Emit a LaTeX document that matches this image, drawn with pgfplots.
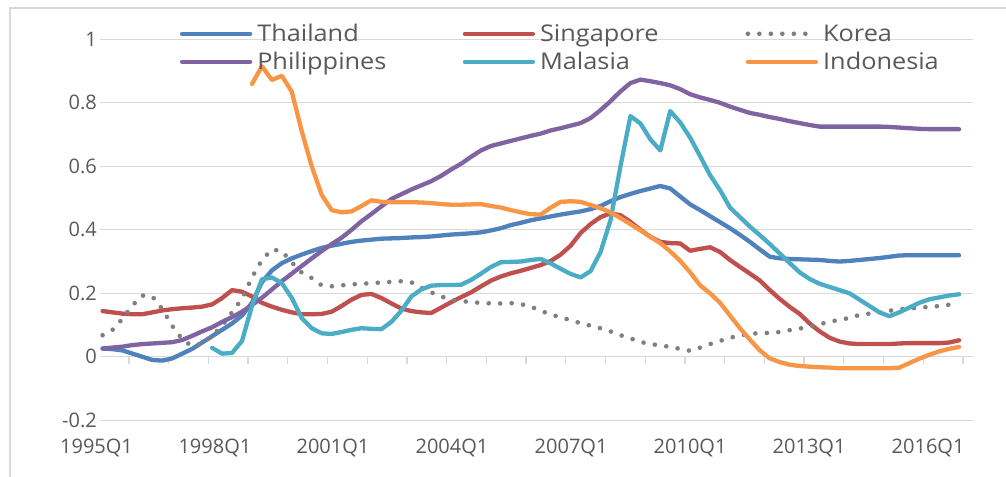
\documentclass[border=0pt]{standalone}
\usepackage{fontspec}
\setmainfont{Open Sans}
\newfontfamily\legendfamily[FakeStretch=1.1]{Open Sans}
\usepackage{pgfplots}
\pgfplotsset{compat=1.18}
\definecolor{thai}{HTML}{4F81BD}
\definecolor{sing}{HTML}{C0504D}
\definecolor{kor}{HTML}{7F7F7F}
\definecolor{phil}{HTML}{8064A2}
\definecolor{mal}{HTML}{4BACC6}
\definecolor{indo}{HTML}{F79646}
\definecolor{gridgray}{HTML}{D9D9D9}
\definecolor{textgray}{HTML}{595959}
\newcommand\tickfont{\fontsize{20bp}{24bp}\selectfont}
\newcommand\legendfont{\legendfamily\fontsize{23bp}{27bp}\selectfont}
\begin{document}
\begin{tikzpicture}
\useasboundingbox (0,0) rectangle (1006bp,477bp);
\fill[white] (0,0) rectangle (1006bp,477bp);
\draw[gridgray, line width=1.5bp] (10bp,0) -- (10bp,469bp) -- (1006bp,469bp);
\begin{axis}[
  at={(100bp,56.7bp)}, anchor=south west,
  scale only axis, width=873bp, height=381bp,
  xmin=-0.26, xmax=87.4, ymin=-0.2, ymax=1,
  axis line style={draw=none},
  major tick length=0pt,
  ytick={-0.2,0,0.2,0.4,0.6,0.8,1},
  yticklabels={-0.2,0,0.2,0.4,0.6,0.8,1},
  xtick={11.28,23.13,35.08,47.04,58.99,70.94,82.89},
  xticklabels={1998Q1,2001Q1,2004Q1,2007Q1,2010Q1,2013Q1,2016Q1},
  extra x ticks={-0.26},
  extra x tick labels={1995Q1},
  extra x tick style={xticklabel style={xshift=-3.5bp}},
  ymajorgrids, grid style={line width=1.3bp, draw=gridgray},
  tick label style={font=\tickfont, text=textgray},
  yticklabel style={anchor=east, inner sep=0pt, xshift=-3bp},
  xticklabel style={anchor=north, inner sep=0pt, yshift=-18.7bp},
  clip=false,
  legend columns=3,
  legend style={at={(0.0916,1.0394)}, anchor=north west, draw=none, fill=none,
    inner sep=0pt, outer sep=0pt, row sep=9bp, column sep=0pt,
    nodes={inner sep=0pt, outer sep=0pt, font=\legendfont, text=textgray}},
  legend image code/.code={\draw[#1] (0bp,0bp) -- (68bp,0bp);},
  every axis plot/.append style={line width=4.3bp, line cap=round, line join=round},
]
\pgfplotsinvokeforeach{2.64,6.63,10.62,14.60,18.59,22.58,26.57,30.56,34.54,38.53,42.52,46.51,50.50,54.48,58.47,62.46,66.45,70.44,74.42,78.41,82.40,86.39}{
  \draw[gridgray, line width=1.3bp] (axis cs:#1,0) -- ([yshift=-7bp]axis cs:#1,0);
}
% Thailand
\addplot[thai] coordinates {
(0,0.026) (1,0.024) (2,0.02) (3,0.01) (4,0.0) (5,-0.01) (6,-0.012) (7,-0.005) (8,0.01) (9,0.025)
(10,0.045) (11,0.065) (12,0.085) (13,0.105) (14,0.13) (15,0.17) (16,0.235) (17,0.272) (18,0.295) (19,0.31)
(20,0.322) (21,0.333) (22,0.343) (23,0.35) (24,0.356) (25,0.362) (26,0.366) (27,0.369) (28,0.372) (29,0.373)
(30,0.374) (31,0.376) (32,0.377) (33,0.379) (34,0.382) (35,0.385) (36,0.387) (37,0.389) (38,0.392) (39,0.398)
(40,0.405) (41,0.415) (42,0.422) (43,0.43) (44,0.436) (45,0.442) (46,0.448) (47,0.453) (48,0.458) (49,0.465)
(50,0.475) (51,0.49) (52,0.503) (53,0.513) (54,0.522) (55,0.53) (56,0.538) (57,0.53) (58,0.505) (59,0.48)
(60,0.462) (61,0.443) (62,0.424) (63,0.405) (64,0.384) (65,0.362) (66,0.338) (67,0.315) (68,0.31) (69,0.308)
(70,0.307) (71,0.306) (72,0.305) (73,0.302) (74,0.3) (75,0.302) (76,0.305) (77,0.308) (78,0.311) (79,0.315)
(80,0.319) (81,0.32) (82,0.32) (83,0.32) (84,0.32) (85,0.32) (86,0.32)};
\addlegendentry{\makebox[210.5bp][l]{\hspace{5bp}Thailand}}
% Singapore
\addplot[sing] coordinates {
(0,0.144) (1,0.14) (2,0.136) (3,0.134) (4,0.134) (5,0.14) (6,0.146) (7,0.15) (8,0.153) (9,0.155)
(10,0.158) (11,0.165) (12,0.185) (13,0.21) (14,0.205) (15,0.19) (16,0.17) (17,0.158) (18,0.148) (19,0.14)
(20,0.134) (21,0.134) (22,0.135) (23,0.142) (24,0.16) (25,0.18) (26,0.195) (27,0.198) (28,0.185) (29,0.168)
(30,0.152) (31,0.144) (32,0.14) (33,0.138) (34,0.155) (35,0.172) (36,0.188) (37,0.203) (38,0.222) (39,0.24)
(40,0.253) (41,0.263) (42,0.271) (43,0.28) (44,0.289) (45,0.302) (46,0.322) (47,0.35) (48,0.39) (49,0.418)
(50,0.44) (51,0.452) (52,0.446) (53,0.425) (54,0.4) (55,0.378) (56,0.362) (57,0.358) (58,0.357) (59,0.334)
(60,0.34) (61,0.345) (62,0.33) (63,0.305) (64,0.283) (65,0.262) (66,0.24) (67,0.21) (68,0.182) (69,0.157)
(70,0.135) (71,0.105) (72,0.08) (73,0.06) (74,0.048) (75,0.042) (76,0.04) (77,0.04) (78,0.04) (79,0.04)
(80,0.042) (81,0.043) (82,0.043) (83,0.043) (84,0.043) (85,0.045) (86,0.052)};
\addlegendentry{\makebox[210.5bp][l]{\hspace{5bp}Singapore}}
% Korea
\addplot[kor, line width=4.6bp, dash pattern=on 0bp off 11.5bp] coordinates {
(0,0.068) (1,0.085) (2,0.12) (3,0.162) (4,0.193) (5,0.19) (6,0.15) (7,0.097) (8,0.055) (9,0.033)
(10,0.042) (11,0.066) (12,0.098) (13,0.14) (14,0.183) (15,0.25) (16,0.305) (17,0.338) (18,0.333) (19,0.297)
(20,0.265) (21,0.248) (22,0.225) (23,0.222) (24,0.225) (25,0.228) (26,0.23) (27,0.232) (28,0.234) (29,0.236)
(30,0.238) (31,0.235) (32,0.218) (33,0.203) (34,0.19) (35,0.18) (36,0.176) (37,0.172) (38,0.17) (39,0.168)
(40,0.168) (41,0.169) (42,0.166) (43,0.158) (44,0.145) (45,0.133) (46,0.125) (47,0.115) (48,0.106) (49,0.098)
(50,0.09) (51,0.08) (52,0.068) (53,0.058) (54,0.047) (55,0.04) (56,0.036) (57,0.031) (58,0.025) (59,0.019)
(60,0.029) (61,0.04) (62,0.05) (63,0.06) (64,0.067) (65,0.072) (66,0.075) (67,0.075) (68,0.078) (69,0.084)
(70,0.089) (71,0.095) (72,0.103) (73,0.11) (74,0.117) (75,0.122) (76,0.132) (77,0.136) (78,0.14) (79,0.145)
(80,0.15) (81,0.152) (82,0.155) (83,0.157) (84,0.16) (85,0.164) (86,0.167)};
\addlegendentry{\makebox[210.5bp][l]{\hspace{5bp}Korea}}
% Philippines
\addplot[phil] coordinates {
(0,0.026) (1,0.029) (2,0.032) (3,0.037) (4,0.04) (5,0.042) (6,0.044) (7,0.046) (8,0.053) (9,0.066)
(10,0.08) (11,0.093) (12,0.11) (13,0.125) (14,0.142) (15,0.163) (16,0.186) (17,0.212) (18,0.238) (19,0.262)
(20,0.286) (21,0.31) (22,0.333) (23,0.355) (24,0.375) (25,0.4) (26,0.427) (27,0.45) (28,0.474) (29,0.497)
(30,0.512) (31,0.527) (32,0.54) (33,0.553) (34,0.57) (35,0.59) (36,0.608) (37,0.63) (38,0.65) (39,0.664)
(40,0.672) (41,0.68) (42,0.688) (43,0.696) (44,0.703) (45,0.713) (46,0.72) (47,0.728) (48,0.736) (49,0.752)
(50,0.777) (51,0.805) (52,0.836) (53,0.862) (54,0.873) (55,0.868) (56,0.862) (57,0.855) (58,0.843) (59,0.827)
(60,0.817) (61,0.809) (62,0.8) (63,0.788) (64,0.778) (65,0.768) (66,0.762) (67,0.755) (68,0.749) (69,0.742)
(70,0.736) (71,0.73) (72,0.725) (73,0.725) (74,0.725) (75,0.725) (76,0.725) (77,0.725) (78,0.725) (79,0.724)
(80,0.722) (81,0.72) (82,0.718) (83,0.717) (84,0.717) (85,0.717) (86,0.717)};
\addlegendentry{\makebox[210.5bp][l]{\hspace{5bp}Philippines}}
% Malasia
\addplot[mal] coordinates {
(11,0.028) (12,0.01) (13,0.012) (14,0.05) (15,0.16) (16,0.244) (17,0.25) (18,0.232) (19,0.185)
(20,0.122) (21,0.09) (22,0.074) (23,0.072) (24,0.078) (25,0.085) (26,0.09) (27,0.088) (28,0.087) (29,0.11)
(30,0.145) (31,0.19) (32,0.212) (33,0.224) (34,0.226) (35,0.226) (36,0.227) (37,0.242) (38,0.262) (39,0.283)
(40,0.298) (41,0.299) (42,0.3) (43,0.305) (44,0.308) (45,0.294) (46,0.277) (47,0.261) (48,0.25) (49,0.27)
(50,0.33) (51,0.43) (52,0.6) (53,0.758) (54,0.735) (55,0.685) (56,0.65) (57,0.774) (58,0.738) (59,0.69)
(60,0.632) (61,0.572) (62,0.525) (63,0.47) (64,0.44) (65,0.41) (66,0.383) (67,0.355) (68,0.325) (69,0.295)
(70,0.266) (71,0.245) (72,0.23) (73,0.22) (74,0.21) (75,0.2) (76,0.18) (77,0.16) (78,0.14) (79,0.128)
(80,0.14) (81,0.155) (82,0.17) (83,0.181) (84,0.187) (85,0.193) (86,0.197)};
\addlegendentry{\makebox[210.5bp][l]{\hspace{5bp}Malasia}}
% Indonesia
\addplot[indo] coordinates {
(15,0.859) (16,0.915) (17,0.872) (18,0.885) (19,0.835)
(20,0.71) (21,0.6) (22,0.51) (23,0.462) (24,0.455) (25,0.458) (26,0.475) (27,0.493) (28,0.488) (29,0.487)
(30,0.487) (31,0.487) (32,0.486) (33,0.484) (34,0.481) (35,0.479) (36,0.479) (37,0.48) (38,0.481) (39,0.475)
(40,0.47) (41,0.462) (42,0.455) (43,0.449) (44,0.448) (45,0.47) (46,0.488) (47,0.49) (48,0.488) (49,0.478)
(50,0.468) (51,0.455) (52,0.437) (53,0.418) (54,0.398) (55,0.378) (56,0.358) (57,0.332) (58,0.302) (59,0.266)
(60,0.225) (61,0.2) (62,0.17) (63,0.13) (64,0.09) (65,0.054) (66,0.02) (67,-0.005) (68,-0.017) (69,-0.025)
(70,-0.029) (71,-0.031) (72,-0.033) (73,-0.034) (74,-0.036) (75,-0.036) (76,-0.036) (77,-0.036) (78,-0.036) (79,-0.036)
(80,-0.034) (81,-0.02) (82,-0.006) (83,0.006) (84,0.017) (85,0.025) (86,0.031)};
\addlegendentry{\makebox[210.5bp][l]{\hspace{5bp}Indonesia}}
\end{axis}
\end{tikzpicture}
\end{document}
